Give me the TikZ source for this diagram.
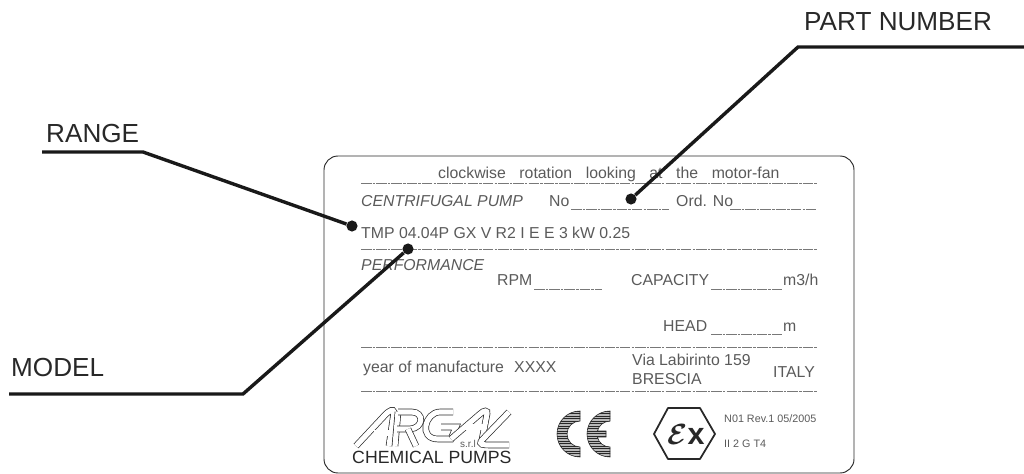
\documentclass[tikz,border=0pt]{standalone}
\usepackage{fontspec}
\setmainfont{Liberation Sans}
\usetikzlibrary{positioning, shapes.geometric}
\definecolor{platedark}{RGB}{40,40,40}
\definecolor{plategray}{RGB}{90,90,90}
\definecolor{rulegray}{RGB}{120,120,120}
\tikzset{
  plate/.style={draw=platedark, line width=0.8pt, rounded corners=0.42cm},
  callout/.style={anchor=base west, inner sep=0pt, text=platedark, font=\fontsize{22.3}{24}\selectfont},
  platetxt/.style={anchor=base west, inner sep=0pt, text=plategray, font=\fontsize{13.5}{15}\selectfont},
  platesmall/.style={anchor=base west, inner sep=0pt, text=plategray, font=\fontsize{9.2}{11}\selectfont},
  dashrule/.style={draw=rulegray, line width=0.7pt, dash pattern=on 9pt off 1pt on 2pt off 1pt},
  leader/.style={draw=black!90, line width=2.9pt},
  leaderdot/.style={circle, fill=black!90, inner sep=0pt, minimum size=9.5pt},
  logoline/.style={draw=platedark, line width=0.6pt, double=white, double distance=4.4pt},
  cepart/.style={draw=platedark, line width=0.5pt},
}
\begin{document}
\begin{tikzpicture}[x=0.03cm, y=-0.03cm]
  \useasboundingbox (0,0) rectangle (1024,474);
  \draw[plate] (324,156) rectangle (854,473);

  % ruled lines of the plate
  \draw[dashrule] (361,183) -- (817,183);
  \draw[dashrule] (361,249) -- (817,249);
  \draw[dashrule] (361,347) -- (817,347);
  \draw[dashrule] (361,391) -- (817,391);
  \draw[dashrule] (571,209) -- (669,209);
  \draw[dashrule] (730,209) -- (816,209);
  \draw[dashrule] (534,289) -- (602,289);
  \draw[dashrule] (711,289) -- (782,289);
  \draw[dashrule] (711,334) -- (782,334);

  % plate texts
  \node[platetxt] (rotation) at (438,178) {clockwise\hspace{0.58em} rotation\hspace{0.58em} looking\hspace{0.58em} at\hspace{0.58em} the\hspace{0.58em} motor-fan};
  \node[platetxt, font=\fontsize{13.5}{15}\selectfont\itshape] (pump) at (361,206) {CENTRIFUGAL PUMP};
  \node[platetxt] (no) at (549,206) {No};
  \node[platetxt] (ord) at (676,206) {Ord. No};
  \node[platetxt] (code) at (361,238) {TMP 04.04P GX V R2 I E E 3 kW 0.25};
  \node[platetxt, font=\fontsize{13.5}{15}\selectfont\itshape] (perf) at (361,270) {PERFORMANCE};
  \node[platetxt] (rpm) at (497,285) {RPM};
  \node[platetxt] (capacity) at (631,285) {CAPACITY};
  \node[platetxt] (m3h) at (783,285) {m3/h};
  \node[platetxt] (head) at (663,331) {HEAD};
  \node[platetxt] (metre) at (783,331) {m};
  \node[platetxt] (year) at (363,372) {year of manufacture};
  \node[platetxt] (xxxx) at (514,372) {XXXX};
  \node[platetxt] (via) at (632,365) {Via Labirinto 159};
  \node[platetxt] (brescia) at (632,384) {BRESCIA};
  \node[platetxt] (italy) at (773,377) {ITALY};
  \node[platesmall] (rev) at (724,422) {N01 Rev.1 05/2005};
  \node[platesmall] (atex) at (724,447) {II 2 G T4};

  % logo
  \draw[logoline] (356,446) -- (385,415) .. controls (390,410) and (393,409) .. (394,412) -- (389,446);
  \draw[logoline] (374,433) -- (389,433);
  \draw[logoline] (398,412) -- (395,446);
  \draw[logoline] (398,412) -- (412,412) .. controls (424,412) and (424,428) .. (410,429) -- (397,429);
  \draw[logoline] (408,429) -- (416,446);
  \draw[logoline] (453,412) -- (440,412) .. controls (425,412) and (418,439) .. (438,439) -- (451,439) -- (456,427) -- (441,427);
  \draw[logoline] (451,439) -- (480,414) .. controls (484,410) and (488,410) .. (487,414) -- (482,440);
  \draw[logoline] (465,427) -- (484,427);
  \draw[logoline] (509,412) -- (482,440) .. controls (478,445) and (484,445) .. (490,445) -- (509,445);
  \node[platesmall, font=\fontsize{8.5}{9}\selectfont] (srl) at (460,447) {s.r.l};
  \node[platetxt, font=\fontsize{15.1}{17}\selectfont, text=platedark] (chemical) at (352,463) {CHEMICAL PUMPS};

  % CE mark
  \begin{scope}
    \clip (580,411) arc[start angle=270, end angle=90, radius=23] -- (580,447) arc[start angle=90, end angle=270, radius=13] -- cycle;
    \fill[gray!55] (550,405) rectangle (585,460);
    \foreach \hy in {411,413.5,...,459} \draw[platedark, line width=0.4pt] (550,\hy) -- (585,\hy);
  \end{scope}
  \draw[cepart] (580,411) arc[start angle=270, end angle=90, radius=23] -- (580,447) arc[start angle=90, end angle=270, radius=13] -- cycle;
  \begin{scope}
    \clip (610,411) arc[start angle=270, end angle=90, radius=23] -- (610,447) arc[start angle=90, end angle=166, radius=13] -- (606,437) -- (606,431) -- (597.4,431) arc[start angle=194, end angle=270, radius=13] -- cycle;
    \fill[gray!55] (580,405) rectangle (615,460);
    \foreach \hy in {411,413.5,...,459} \draw[platedark, line width=0.4pt] (580,\hy) -- (615,\hy);
  \end{scope}
  \draw[cepart] (610,411) arc[start angle=270, end angle=90, radius=23] -- (610,447) arc[start angle=90, end angle=166, radius=13] -- (606,437) -- (606,431) -- (597.4,431) arc[start angle=194, end angle=270, radius=13] -- cycle;

  % Ex mark
  \draw[platedark, line width=1.5pt, line join=round] (668,408) -- (700,408) -- (715,434) -- (700,459) -- (668,459) -- (654,434) -- cycle;
  \node[inner sep=0pt, text=platedark, font=\fontsize{26}{28}\selectfont\bfseries\mathversion{bold}] (exmark) at (686,434) {$\mathcal{E}$x};

  % callouts
  \node[callout] (range) at (46,142) {RANGE};
  \node[callout] (model) at (11,376) {MODEL};
  \node[callout] (partno) at (804,30) {PART NUMBER};
  \coordinate (rangestart) at (42,152);
  \coordinate (rangeknee) at (143,152);
  \coordinate (modelstart) at (9,394);
  \coordinate (modelknee) at (243,394);
  \coordinate (partstart) at (1024,47);
  \coordinate (partknee) at (798,47);
  \node[leaderdot] (rangedot) at (352,226) {};
  \node[leaderdot] (modeldot) at (408,249) {};
  \node[leaderdot] (partdot) at (631,199) {};
  \draw[leader] (rangestart) -- (rangeknee) -- (rangedot);
  \draw[leader] (modelstart) -- (modelknee) -- (modeldot);
  \draw[leader] (partstart) -- (partknee) -- (partdot);
\end{tikzpicture}
\end{document}
